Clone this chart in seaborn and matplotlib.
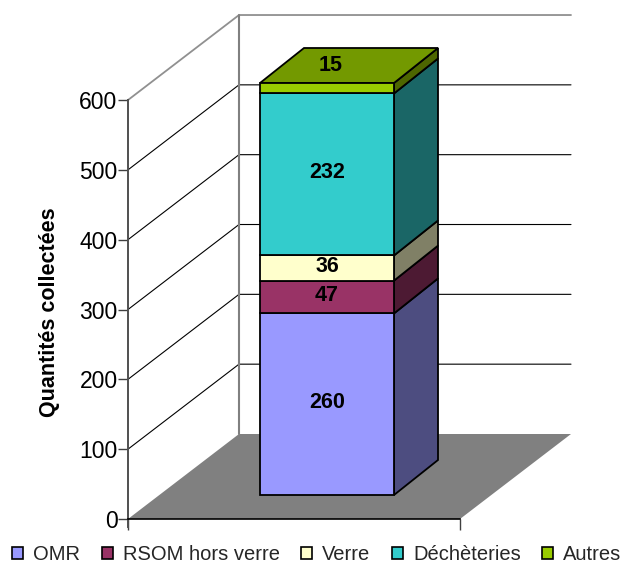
import numpy as np
import pandas as pd
import matplotlib
matplotlib.use("Agg")
import matplotlib.pyplot as plt
from matplotlib.patches import Patch
import seaborn as sns

# --- data ---
series = ["OMR", "RSOM hors verre", "Verre", "Déchèteries", "Autres"]
values = [260, 47, 36, 232, 15]
yticks = [0, 100, 200, 300, 400, 500, 600]
ylabel = "Quantités collectées"

# --- styles ---
front_cols = ["#9999ff", "#993366", "#ffffcc", "#33cccc", "#99cc00"]
side_cols = ["#4d4d80", "#4d1a33", "#808066", "#1a6666", "#4d6600"]
top_col = "#739900"
FONT = "Liberation Sans"

W, H = 623, 563
PX = 0.6983           # pixels per value unit
Y0 = 519              # pixel row of value 0
X0, X1 = 128, 460     # front plane
DX, DY = 111, 85 / PX # plot depth
BX0, BX1 = 260, 394   # bar front face
BDX, BDY = 44, 35 / PX
BASE = 24 / PX
LABEL_NUDGE = 2 / PX

sns.set_theme(style="white")
plt.rcParams["font.family"] = [FONT, "DejaVu Sans"]
fig = plt.figure(figsize=(W / 100, H / 100), dpi=100)
ax = fig.add_axes([0, 0, 1, 1])
ax.patch.set_alpha(0)

# floor and walls
ax.fill([X0, X1, X1 + DX, X0 + DX], [0, 0, DY, DY], color="#808080", lw=0, zorder=1)
for t in yticks[1:-1]:
    ax.plot([X0, X0 + DX, X1 + DX], [t, t + DY, t + DY], color="black", lw=0.8, zorder=1)
top = yticks[-1]
ax.plot([X0, X0 + DX, X1 + DX], [top, top + DY, top + DY], color="#909090", lw=1.3, zorder=1)
ax.plot([X0 + DX, X0 + DX], [DY, top + DY], color="#808080", lw=1.5, zorder=1)

# stacked front faces through seaborn
bottoms = BASE + np.concatenate([[0], np.cumsum(values)[:-1]])
df = pd.DataFrame({"x": (BX0 + BX1) / 2, "v": values, "s": series, "b": bottoms})
for (_, r), c in zip(df.iterrows(), front_cols):
    sns.barplot(x=[r.x], y=[r.v], bottom=r.b, native_scale=True, width=BX1 - BX0,
                color=c, saturation=1, edgecolor="black", linewidth=1.3, ax=ax, zorder=4)

# side faces and top
for v, b, c in zip(values, bottoms, side_cols):
    ax.fill([BX1, BX1 + BDX, BX1 + BDX, BX1], [b, b + BDY, b + v + BDY, b + v],
            facecolor=c, edgecolor="black", lw=1.3, zorder=3)
t = bottoms[-1] + values[-1]
ax.fill([BX0, BX1, BX1 + BDX, BX0 + BDX], [t, t, t + BDY, t + BDY],
        facecolor=top_col, edgecolor="black", lw=1.3, zorder=3)

# value labels
xc = (BX0 + BX1) / 2
for v, b in zip(values[:-1], bottoms[:-1]):
    ax.text(xc, b + v / 2 + LABEL_NUDGE, str(v), ha="center", va="center", fontsize=15.5,
            fontweight="bold", color="black", zorder=6)
ax.text(xc + 4, t + BDY / 2, str(values[-1]), ha="center", va="center", fontsize=15.5,
        fontweight="bold", color="black", zorder=6)

# axes
ax.set_xlim(0, W)
ax.set_ylim(-(H - Y0) / PX, Y0 / PX)
for s in ["top", "right"]:
    ax.spines[s].set_visible(False)
ax.spines["left"].set_position(("data", X0))
ax.spines["left"].set_bounds(-8 / PX, top)
ax.spines["left"].set_color("#505050")
ax.spines["left"].set_linewidth(1.4)
ax.spines["bottom"].set_position(("data", 0))
ax.spines["bottom"].set_bounds(X0, X1)
ax.spines["bottom"].set_color("black")
ax.spines["bottom"].set_linewidth(1.2)
ax.set_yticks(yticks)
ax.set_yticklabels([str(t) for t in yticks], fontsize=16.5, color="black")
ax.set_xticks([X0, X1])
ax.set_xticklabels(["", ""])
ax.tick_params(axis="y", left=True, length=7, width=1, color="#404040", pad=0.5)
ax.tick_params(axis="x", bottom=True, length=8, width=1, color="#404040")
ax.set_xlabel("")
ax.set_ylabel("")
fig.text(50 / W, 1 - 312 / H, ylabel, rotation=90, ha="center", va="center",
         fontsize=15.5, fontweight="bold", color="black")

# legend
handles = [Patch(facecolor=c, edgecolor="black", linewidth=1.2, label=s)
           for s, c in zip(series, front_cols)]
ax.legend(handles=handles, ncol=5, loc="lower left", bbox_to_anchor=(8 / W, -5 / H),
          bbox_transform=fig.transFigure, frameon=False, fontsize=14.5, handlelength=0.55,
          handleheight=0.55, handletextpad=0.5, columnspacing=1.06, borderpad=0.1,
          borderaxespad=0.1)

fig.savefig("out.png", dpi=100)
